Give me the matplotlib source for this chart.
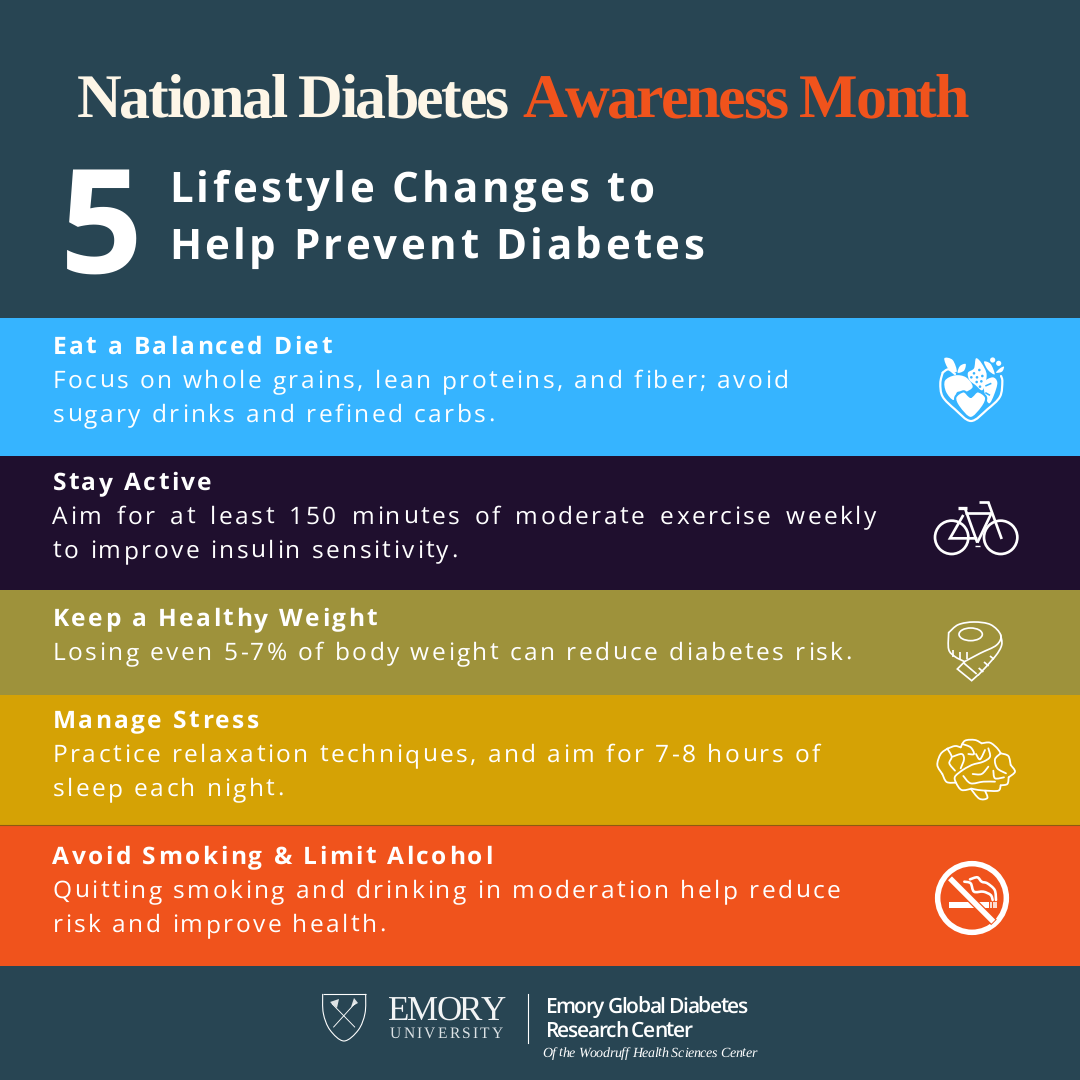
import matplotlib
matplotlib.use("Agg")
from matplotlib import pyplot as plt
from matplotlib.font_manager import findfont, get_font
from matplotlib.ft2font import LoadFlags
from matplotlib.patches import Circle, Ellipse, PathPatch, Polygon, Rectangle
from matplotlib.path import Path
from matplotlib.text import Text
from matplotlib.transforms import Bbox

plt.rcParams["text.hinting"] = "no_hinting"

title_left = "National Diabetes"
title_right = "Awareness Month"
big_number = "5"
subtitle = ["Lifestyle Changes to", "Help Prevent Diabetes"]

headings = ["Eat a Balanced Diet", "Stay Active", "Keep a Healthy Weight",
            "Manage Stress", "Avoid Smoking & Limit Alcohol"]
bodies = [
    ["Focus on whole grains, lean proteins, and fiber; avoid", "sugary drinks and refined carbs."],
    ["Aim for at least 150 minutes of moderate exercise weekly", "to improve insulin sensitivity."],
    ["Losing even 5-7% of body weight can reduce diabetes risk."],
    ["Practice relaxation techniques, and aim for 7-8 hours of", "sleep each night."],
    ["Quitting smoking and drinking in moderation help reduce", "risk and improve health."],
]
band_edges = [318, 456, 590, 695, 825, 966]
band_colors = ["#36B4FF", "#1F0F2E", "#9E923B", "#D5A205", "#F0531C"]

BG = "#284553"
CREAM = "#FDF6E7"
ORANGE = "#F0531C"
WHITE = "#FFFFFF"


# text with letter spacing, still one string per artist
class SpacedText(Text):
    def __init__(self, x, y, text, spacing=0, word=0, **kw):
        super().__init__(x, y, text, **kw)
        self.spacing = spacing
        self.word = word

    def advances(self, dpi):
        font = get_font(findfont(self.get_fontproperties()))
        font.set_size(self.get_fontsize(), dpi)
        out = []
        for ch in self.get_text():
            g = font.load_char(ord(ch), flags=LoadFlags.NO_HINTING)
            adv = g.linearHoriAdvance / 65536 + self.spacing
            if ch == " ":
                adv += self.word
            out.append(adv)
        return out

    def get_window_extent(self, renderer=None, dpi=None):
        dpi = dpi or self.get_figure().dpi
        x, y = self.get_transform().transform((self._x, self._y))
        size = self.get_fontsize() * dpi / 72
        return Bbox([[x, y - 0.25 * size], [x + sum(self.advances(dpi)), y + 0.8 * size]])

    def draw(self, renderer):
        x, y = self.get_transform().transform((self._x, self._y))
        if renderer.flipy():
            y = renderer.get_canvas_width_height()[1] - y
        gc = renderer.new_gc()
        gc.set_foreground(self.get_color())
        gc.set_antialiased(True)
        for ch, adv in zip(self.get_text(), self.advances(self.get_figure().dpi)):
            if ch != " ":
                renderer.draw_text(gc, x, y, ch, self.get_fontproperties(), 0, ismath=False)
            x += adv
        gc.restore()


def put(x, y, s, px, color=WHITE, family="Open Sans", weight="normal", style="normal", spacing=0, word=0):
    t = SpacedText(x, y, s, spacing=spacing, word=word, fontsize=px * 0.72, color=color,
                   family=family, weight=weight, style=style, va="baseline", ha="left")
    ax.add_artist(t)
    return t


def spline(pts, closed=False):
    # catmull-rom through the points, as bezier pieces
    n = len(pts)
    verts = [pts[0]]
    codes = [Path.MOVETO]
    last = n if closed else n - 1
    for i in range(last):
        if closed:
            p0, p1, p2, p3 = pts[(i - 1) % n], pts[i], pts[(i + 1) % n], pts[(i + 2) % n]
        else:
            p0, p1, p2, p3 = pts[max(i - 1, 0)], pts[i], pts[i + 1], pts[min(i + 2, n - 1)]
        c1 = (p1[0] + (p2[0] - p0[0]) / 6, p1[1] + (p2[1] - p0[1]) / 6)
        c2 = (p2[0] - (p3[0] - p1[0]) / 6, p2[1] - (p3[1] - p1[1]) / 6)
        verts += [c1, c2, p2]
        codes += [Path.CURVE4] * 3
    return Path(verts, codes)


def curve(pts, org, lw=2.0, fill=None, color=WHITE, closed=False):
    # icon points are in 3x crop units, org is the crop corner
    real = [(org[0] + x / 3, org[1] + y / 3) for x, y in pts]
    ax.add_patch(PathPatch(spline(real, closed), facecolor=fill or "none", edgecolor=color,
                           lw=lw * 0.72, capstyle="round", joinstyle="round"))


def seg(pts, org, lw=2.0, color=WHITE):
    ax.plot([org[0] + p[0] / 3 for p in pts], [org[1] + p[1] / 3 for p in pts], color=color,
            lw=lw * 0.72, solid_capstyle="butt", solid_joinstyle="miter")


def food_icon():
    org = (900, 340)
    blue = band_colors[0]
    # outer heart
    curve([(128, 98), (121, 130), (128, 170), (165, 208), (213, 243), (262, 208), (300, 170), (307, 125), (303, 108)], org, lw=2.2)
    # apple
    curve([(135, 122), (165, 106), (198, 112), (218, 140), (196, 156), (172, 156), (160, 180), (138, 155)], org, lw=0, fill=WHITE, closed=True)
    curve([(133, 55), (158, 60), (170, 95), (146, 88)], org, lw=0, fill=WHITE, closed=True)
    curve([(173, 98), (180, 78), (197, 72), (192, 92)], org, lw=0, fill=WHITE, closed=True)
    curve([(128, 98), (145, 88), (165, 102)], org, lw=2.2)
    # grapes
    curve([(204, 98), (222, 85), (228, 55), (245, 70), (260, 105), (248, 150), (226, 135), (208, 120)], org, lw=0, fill=WHITE, closed=True)
    for x, y in [(222, 100), (238, 90), (214, 112), (231, 112), (247, 108), (230, 126), (244, 124), (240, 140)]:
        ax.add_patch(Circle((org[0] + x / 3, org[1] + y / 3), 1.3, color=blue, lw=0))
    # carrot
    curve([(252, 128), (278, 112), (292, 128), (282, 165), (268, 190), (256, 170)], org, lw=0, fill=WHITE, closed=True)
    seg([(256, 138), (274, 130)], org, lw=1.6, color=blue)
    seg([(256, 158), (270, 166)], org, lw=1.6, color=blue)
    curve([(252, 65), (272, 72), (284, 103), (264, 90)], org, lw=0, fill=WHITE, closed=True)
    curve([(288, 98), (300, 85), (312, 80), (306, 95)], org, lw=0, fill=WHITE, closed=True)
    for x, y in [(278, 60), (296, 70)]:
        ax.add_patch(Circle((org[0] + x / 3, org[1] + y / 3), 2.6, color=WHITE, lw=0))
    # small heart with a gap around it
    curve([(212, 170), (233, 154), (258, 172), (247, 202), (212, 234), (177, 202), (166, 172), (191, 154)], org, lw=2.2, fill=WHITE, color=blue, closed=True)


def bike_icon():
    org = (900, 340)
    lw = 2.7
    for cx in [155, 302]:
        ax.add_patch(Circle((org[0] + cx / 3, org[1] + 592 / 3), 50 / 3, fill=False, ec=WHITE, lw=lw * 0.72))
    seg([(195, 505), (232, 608)], org, lw)
    seg([(195, 520), (275, 520)], org, lw)
    seg([(275, 518), (232, 608)], org, lw)
    seg([(190, 525), (150, 595), (232, 595)], org, lw)
    seg([(265, 487), (305, 597)], org, lw)
    seg([(236, 487), (268, 487)], org, lw)
    seg([(175, 504), (202, 504)], org, lw + 0.6)
    seg([(224, 619), (241, 619)], org, 1.4)


def tape_icon():
    org = (900, 600)
    lw = 1.7
    curve([(146, 98), (175, 74), (222, 66), (272, 74), (302, 105), (290, 135), (240, 160), (195, 184)], org, lw)
    curve([(146, 98), (146, 148), (165, 170), (192, 184)], org, lw)
    ax.add_patch(Ellipse((org[0] + 212 / 3, org[1] + 103 / 3), 70 / 3, 38 / 3, fill=False, ec=WHITE, lw=lw * 0.72))
    curve([(302, 105), (305, 135), (285, 170), (235, 225)], org, lw)
    seg([(195, 184), (172, 207), (215, 242), (235, 224)], org, lw)
    seg([(190, 188), (230, 222)], org, lw)
    for a, b in [((160, 150), (160, 170)), ((180, 156), (180, 178)), ((202, 156), (202, 178)),
                 ((236, 204), (250, 216)), ((252, 186), (266, 198)), ((270, 168), (282, 178))]:
        seg([a, b], org, lw)


def brain_icon():
    org = (900, 600)
    lw = 1.8
    # outline, one arc per lobe so the joins stay sharp
    lobes = [
        [(168, 548), (140, 546), (127, 522)],
        [(127, 522), (112, 495), (122, 462), (142, 446)],
        [(142, 446), (165, 438), (182, 442)],
        [(182, 442), (195, 422), (225, 420), (245, 430)],
        [(245, 430), (270, 428), (292, 445), (302, 460)],
        [(302, 460), (325, 468), (332, 495)],
        [(332, 495), (345, 515), (326, 532)],
        [(326, 532), (322, 552), (302, 556)],
        [(302, 556), (295, 572), (258, 572)],
        [(258, 572), (235, 570), (215, 566)],
        [(215, 566), (185, 570), (168, 548), (165, 530), (185, 512)],
        [(185, 512), (215, 495), (250, 485), (270, 470), (265, 445)],
    ]
    for pts in lobes:
        curve(pts, org, lw)
    curve([(212, 566), (238, 596), (262, 594), (255, 572)], org, lw)
    curve([(142, 446), (155, 470), (148, 490), (165, 512)], org, lw)
    curve([(158, 470), (185, 462), (192, 478), (182, 505)], org, lw)
    curve([(187, 432), (212, 442), (222, 462), (205, 462)], org, lw)
    curve([(228, 462), (240, 478), (255, 450)], org, lw)
    curve([(302, 460), (285, 478), (292, 505), (318, 520)], org, lw)
    curve([(280, 512), (285, 535), (312, 532)], org, lw)
    curve([(218, 522), (245, 522), (265, 500)], org, lw)
    curve([(190, 528), (212, 550), (250, 545), (285, 545)], org, lw)


def smoke_icon():
    org = (900, 600)
    ax.add_patch(Circle((org[0] + 216 / 3, org[1] + 894 / 3), 103 / 3, fill=False, ec=WHITE, lw=5.5 * 0.72))
    ax.add_patch(Rectangle((org[0] + 146 / 3, org[1] + 905 / 3), 122 / 3, 18 / 3, color=WHITE, lw=0))
    for x in [273, 281, 288]:
        seg([(x, 905), (x, 923)], org, 1.6)
    curve([(193, 845), (212, 850), (222, 875), (250, 875), (272, 885), (278, 900)], org, 2.6)
    curve([(210, 838), (232, 832), (245, 845), (262, 850), (284, 870), (288, 900)], org, 2.6)
    seg([(148, 833), (282, 967)], org, 8.0, color=band_colors[4])
    seg([(150, 835), (280, 965)], org, 5.5)


def emory_logo():
    org = (300, 970)
    lw = 1.1
    seg([(68, 73), (197, 73)], org, lw)
    curve([(68, 73), (70, 130), (90, 180), (132, 213), (175, 180), (195, 130), (197, 73)], org, lw)
    seg([(95, 100), (165, 172)], org, 0.9)
    seg([(165, 100), (100, 172)], org, 0.9)
    ax.add_patch(Polygon([(330, 1002), (339, 999), (337, 1008)], color=WHITE, alpha=0.85, lw=0))
    ax.add_patch(Polygon([(351, 1007), (354, 998), (358, 1003)], color=WHITE, alpha=0.85, lw=0))
    ax.plot([527.5, 527.5], [994, 1043], color=WHITE, lw=0.8)
    put(388, 1020, "EMORY", 35, color="#F2F4F5", family="Liberation Serif", spacing=-2.2)
    put(390, 1038, "UNIVERSITY", 15.5, color="#DDE3E6", family="Liberation Serif", spacing=2.2)
    put(545, 1013, "Emory Global Diabetes", 21, weight="semibold", spacing=-1.35)
    put(545, 1037, "Research Center", 21, weight="semibold", spacing=-1.35)
    put(542, 1057, "Of the Woodruff Health Sciences Center", 14, family="Liberation Serif", style="italic", spacing=-0.3)


fig = plt.figure(figsize=(10.8, 10.8), dpi=100, facecolor=BG)
ax = fig.add_axes([0, 0, 1, 1])
ax.set_xlim(0, 1080)
ax.set_ylim(1080, 0)
ax.axis("off")

for top, bot, col in zip(band_edges[:-1], band_edges[1:], band_colors):
    ax.barh((top + bot) / 2, 1080, height=bot - top, left=0, color=col, lw=0)
ax.plot([0, 1080], [825, 825], color="#8F5A10", lw=0.8)

put(77, 117, title_left, 62, color=CREAM, family="Liberation Serif", weight="bold", spacing=-2.4)
put(522, 117, title_right, 62, color=ORANGE, family="Liberation Serif", weight="bold", spacing=-2.4)
put(60, 273, big_number, 145, weight="bold")
put(169, 202, subtitle[0], 42, weight="bold", spacing=3.35)
put(169, 259, subtitle[1], 42, weight="bold", spacing=3.35)

baselines = [354, 490, 626, 728, 864]
for head, lines, base in zip(headings, bodies, baselines):
    put(52.5, base, head, 24.5, weight="bold", spacing=2.4)
    for i, line in enumerate(lines):
        word = 4.0 if line.startswith("Aim") else 0
        put(52.5, base + 34 * (i + 1), line, 24.5, spacing=2.45, word=word)

food_icon()
bike_icon()
tape_icon()
brain_icon()
smoke_icon()
emory_logo()

fig.savefig("out.png", dpi=100, facecolor=BG)
